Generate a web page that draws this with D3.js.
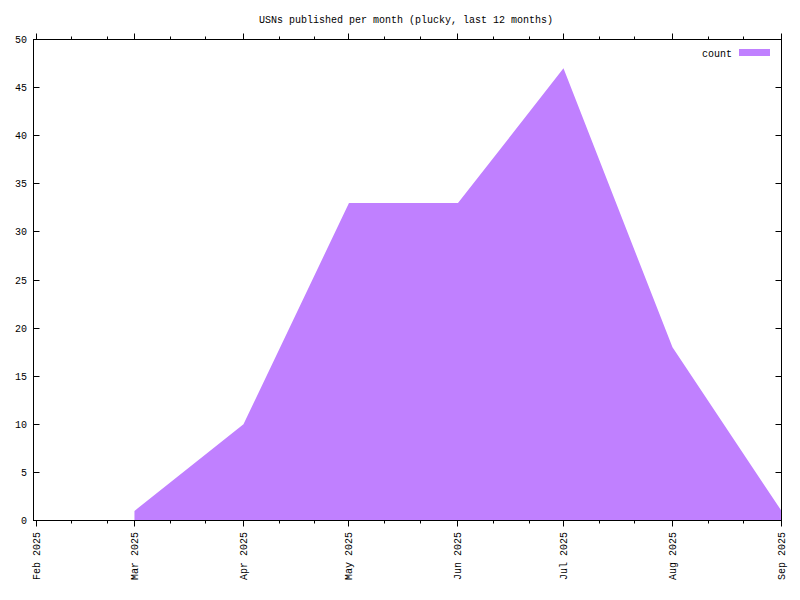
<!DOCTYPE html>
<html><head><meta charset="utf-8">
<script src="https://cdn.jsdelivr.net/npm/d3@7"></script>
<style>body{margin:0;background:#fff}text{font-family:"Liberation Mono","DejaVu Sans Mono",monospace;font-size:10px;fill:#000}</style>
</head><body><svg width="800" height="600"></svg>
<script>
const title = "USNs published per month (plucky, last 12 months)";
const months = ["2025-03-01","2025-04-01","2025-05-01","2025-06-01","2025-07-01","2025-08-01","2025-09-01"];
const counts = [1,10,33,33,47,18,1];
const tickMonths = ["2025-02-01","2025-03-01","2025-04-01","2025-05-01","2025-06-01","2025-07-01","2025-08-01","2025-09-01"];
const tickLabels = ["Feb 2025","Mar 2025","Apr 2025","May 2025","Jun 2025","Jul 2025","Aug 2025","Sep 2025"];
const yTicks = [0,5,10,15,20,25,30,35,40,45,50];
const seriesName = "count";
const color = "#c080ff";

const parse = d3.utcParse("%Y-%m-%d");
const svg = d3.select("svg");
const L = 33.5, R = 781.5, T = 39.5, B = 520.5;
const DAY = 86400000;
const t0 = parse(tickMonths[0]), t1 = parse(tickMonths[tickMonths.length-1]);
const pxPerMs = (R - 36) / (t1 - t0);
const x = d3.scaleUtc().domain([new Date(+t0 - (36 - L)/pxPerMs), t1]).range([L, R]);
const y = d3.scaleLinear().domain([0,50]).range([B, T]);

const data = months.map((m,i)=>({d:parse(m), v:counts[i]}));
svg.append("path").datum(data)
  .attr("d", d3.area().x(d=>x(d.d)).y0(y(0)).y1(d=>y(d.v)))
  .attr("fill", color);

const g = svg.append("g").attr("stroke","#000").attr("stroke-width",1).attr("fill","none");
g.append("rect").attr("x",L).attr("y",T).attr("width",R-L).attr("height",B-T);

// y ticks inward, both sides
yTicks.forEach(v=>{
  const yy = Math.round(y(v)-0.5)+0.5;
  g.append("line").attr("x1",L).attr("x2",L+6).attr("y1",yy).attr("y2",yy);
  g.append("line").attr("x1",R).attr("x2",R-6).attr("y1",yy).attr("y2",yy);
  svg.append("text").attr("x",27).attr("y",yy).attr("dy","0.35em").attr("text-anchor","end").text(v);
});

// x ticks outward, bottom and top; minor ticks at 1/3 of average month
const avgMonth = 30.4375*DAY;
tickMonths.forEach((m,i)=>{
  const d = parse(m);
  const xx = Math.round(x(d)-0.5)+0.5;
  g.append("line").attr("x1",xx).attr("x2",xx).attr("y1",B).attr("y2",B+6);
  g.append("line").attr("x1",xx).attr("x2",xx).attr("y1",T).attr("y2",T-6);
  svg.append("text").attr("transform",`translate(${xx},532) rotate(-90)`)
    .attr("dy","0.35em").attr("text-anchor","end").text(tickLabels[i]);
  if (i < tickMonths.length-1) {
    [1,2].forEach(k=>{
      const md = new Date(+d + k*avgMonth/3);
      const mx = Math.round(x(md)-0.5)+0.5;
      g.append("line").attr("x1",mx).attr("x2",mx).attr("y1",B).attr("y2",B+3);
      g.append("line").attr("x1",mx).attr("x2",mx).attr("y1",T).attr("y2",T-3);
    });
  }
});

svg.append("text").attr("x",406).attr("y",19).attr("dy","0.35em").attr("text-anchor","middle").text(title);

// legend
svg.append("text").attr("x",732).attr("y",53).attr("dy","0.35em").attr("text-anchor","end").text(seriesName);
svg.append("rect").attr("x",739).attr("y",49).attr("width",31).attr("height",7).attr("fill",color);
</script></body></html>
